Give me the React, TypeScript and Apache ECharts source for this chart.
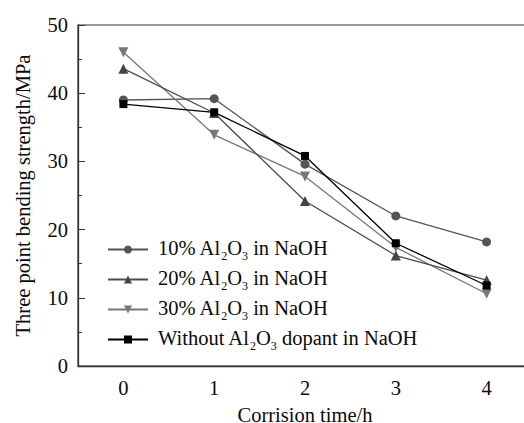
import { useEffect, useRef } from 'react';
import * as echarts from 'echarts';

const times = ['0', '1', '2', '3', '4'];
const names = ['10% Al2O3 in NaOH', '20% Al2O3 in NaOH', '30% Al2O3 in NaOH', 'Without Al2O3 dopant in NaOH'];
const s10 = [39.0, 39.2, 29.6, 22.0, 18.2];
const s20 = [43.6, 37.1, 24.2, 16.2, 12.6];
const s30 = [46.0, 33.9, 27.8, 17.4, 10.6];
const s0 = [38.4, 37.2, 30.8, 18.0, 11.8];
const yTicks = { min: 0, max: 50, interval: 10 };

const FONT = 'Liberation Serif';
const FS = 20.5;
const TXT = '#0a0a0a';

function legendRich(name: string) {
  const parts = name.split('Al2O3');
  return `{a|${parts[0]}Al}{s|2}{a|O}{s|3}{a|${parts[1]}}`;
}

export default function App() {
  const ref = useRef<HTMLDivElement>(null);
  useEffect(() => {
    if (!ref.current) return;
    const chart = echarts.init(ref.current, undefined, { renderer: 'svg' });
    const mk = (name: string, data: number[], symbol: string, size: number, color: string, lineColor: string) => ({
      name,
      type: 'line',
      data,
      symbol,
      symbolSize: size,
      itemStyle: { color },
      lineStyle: { color: lineColor, width: 1.3 },
      emphasis: { disabled: true },
    });
    chart.setOption({
      animation: false,
      backgroundColor: '#fff',
      grid: {
        left: 78, top: 25, width: 454, height: 341,
        show: true, borderColor: '#333', borderWidth: 1.2,
        containLabel: false, outerBoundsMode: 'none',
      },
      legend: {
        orient: 'vertical',
        left: 102,
        top: 232,
        itemWidth: 40,
        itemHeight: 10,
        itemGap: 5,
        data: names,
        formatter: (n: string) => legendRich(n),
        textStyle: {
          fontFamily: FONT,
          fontSize: FS,
          color: TXT,
          padding: [0, 0, 0, 5],
          rich: {
            a: { fontFamily: FONT, fontSize: FS, color: TXT, verticalAlign: 'bottom', padding: [0, 0, 4, 0] },
            s: { fontFamily: FONT, fontSize: 12, color: TXT, verticalAlign: 'bottom' },
          },
        },
      },
      xAxis: [
        {
          type: 'category',
          data: times,
          position: 'bottom',
          boundaryGap: true,
          axisLine: { lineStyle: { color: '#333', width: 1.3 } },
          axisTick: { alignWithLabel: true, inside: true, length: 6, lineStyle: { color: '#333' } },
          axisLabel: { margin: 11, fontFamily: FONT, fontSize: FS, color: TXT },
          splitLine: { show: false },
          name: 'Corrision time/h',
          nameLocation: 'middle',
          nameGap: 38,
          nameTextStyle: { fontFamily: FONT, fontSize: FS, color: TXT },
        },
        {
          type: 'category',
          data: times,
          position: 'bottom',
          boundaryGap: true,
          axisLine: { show: false },
          axisTick: { alignWithLabel: false, inside: true, length: 4, lineStyle: { color: '#333' } },
          axisLabel: { show: false },
          splitLine: { show: false },
        },
      ],
      yAxis: {
        type: 'value',
        min: yTicks.min,
        max: yTicks.max,
        interval: yTicks.interval,
        axisLine: { show: true, lineStyle: { color: '#333', width: 1.3 } },
        axisTick: { show: true, inside: true, length: 7, lineStyle: { color: '#333' } },
        minorTick: { show: true, splitNumber: 2, length: 4, lineStyle: { color: '#333' } },
        splitLine: { show: false },
        axisLabel: { margin: 10, fontFamily: FONT, fontSize: FS, color: TXT },
        name: 'Three point bending strength/MPa',
        nameLocation: 'middle',
        nameGap: 45,
        nameTextStyle: { fontFamily: FONT, fontSize: FS, color: TXT },
      },
      series: [
        mk(names[0], s10, 'circle', 9, '#555', '#555'),
        mk(names[2], s30, 'path://M0,0 L10,0 L5,9 Z', 10, '#777', '#777'),
        mk(names[1], s20, 'triangle', 10, '#444', '#4a4a4a'),
        mk(names[3], s0, 'rect', 8, '#000', '#000'),
      ],
    });
    return () => chart.dispose();
  }, []);
  return <div ref={ref} style={{ width: 524, height: 423, position: 'absolute', left: 0, top: 0 }} />;
}
